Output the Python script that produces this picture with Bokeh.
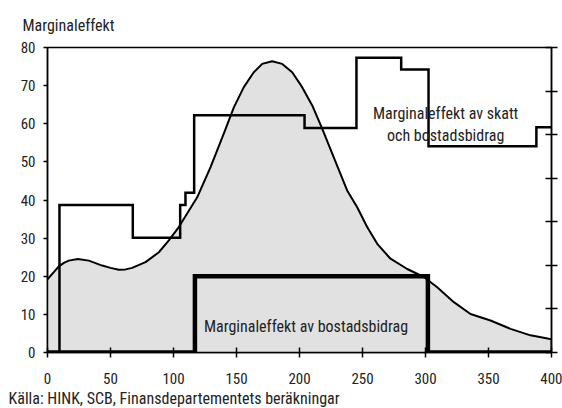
from bokeh.plotting import figure
from bokeh.models import LinearAxis, FixedTicker, Title, Range1d
from bokeh.core.properties import value
from bokeh.embed import file_html
from bokeh.resources import INLINE

FONT = "Roboto Condensed"
TXT = "#222222"

# Income distribution (grey area, smooth curve)
dist_x = [0, 5, 9, 13, 16.9, 24, 32.8, 43.4, 50, 56.6, 62, 67.2, 77.8, 88.4, 96.3, 104.2,
          112.2, 118.8, 129.4, 139.9, 147.9, 155.8, 163.7, 170.4, 178.3, 186.3, 194.2,
          202.1, 210.1, 218, 227.2, 237.8, 245.8, 253.7, 261.7, 272.2, 285.5, 298.7,
          309.3, 322.5, 335.7, 351.6, 367.5, 383.3, 397.9, 400, 400]
dist_y = [19.2, 21.1, 22.6, 23.5, 24.1, 24.5, 24.1, 22.8, 22.2, 21.7, 21.8, 22.2, 23.7, 26.3,
          29.4, 32.9, 37.2, 40.7, 48.6, 57.4, 64.3, 69.6, 73.5, 75.7, 76.4, 75.7, 73.5,
          69.6, 64.8, 58.7, 51.2, 42.5, 38.1, 32.9, 28.5, 24.6, 21.9, 19.8,
          17.1, 13.2, 10.1, 8.4, 6.2, 4.5, 3.6, 3.5, 0]

# Marginal effect of tax and housing benefit (steps)
tax_x = [0, 9.5, 67.7, 105.3, 109.5, 116.4, 204, 245.2, 280.7, 302.4, 388, 400]
tax_y = [0, 38.7, 30.1, 38.7, 41.9, 62.2, 58.9, 77.3, 74.2, 54.1, 59.1, 59.1]

# Marginal effect of housing benefit (steps)
hb_x = [0, 117, 301.9, 400]
hb_y = [0, 20, 0, 0]

x_ticks = [0, 50, 100, 150, 200, 250, 300, 350, 400]
y_ticks = [0, 10, 20, 30, 40, 50, 60, 70, 80]
right_ticks = [0, 1, 2, 3, 4, 5, 6, 7]

p = figure(width=562, height=408, output_backend="svg", toolbar_location=None,
           x_range=Range1d(0, 400), y_range=Range1d(0, 80),
           x_axis_location=None, y_axis_location=None,
           min_border_left=47, min_border_right=11, min_border_top=47, min_border_bottom=56)
p.extra_y_ranges = {"dist": Range1d(0, 7)}
p.grid.visible = False
p.outline_line_color = "black"
p.outline_line_width = 1.5
p.background_fill_color = "white"
p.border_fill_color = "white"


def style_axis(ax):
    ax.axis_line_color = "black"
    ax.axis_line_width = 1.5
    ax.major_tick_line_color = "black"
    ax.major_tick_line_width = 1.5
    ax.minor_tick_line_color = None
    ax.major_label_text_font = FONT
    ax.major_label_text_font_size = "15px"
    ax.major_label_text_color = TXT


left = LinearAxis(ticker=FixedTicker(ticks=y_ticks))
style_axis(left)
left.major_tick_in = 0
left.major_tick_out = 4
left.major_label_standoff = 8
p.add_layout(left, "left")

bottom = LinearAxis(ticker=FixedTicker(ticks=x_ticks))
style_axis(bottom)
bottom.major_tick_in = 5
bottom.major_tick_out = 5
bottom.major_label_standoff = 15
p.add_layout(bottom, "below")

right = LinearAxis(ticker=FixedTicker(ticks=right_ticks), y_range_name="dist")
style_axis(right)
right.major_tick_in = 6
right.major_tick_out = 6
right.major_label_text_color = None
right.major_label_text_font_size = "1px"
p.add_layout(right, "right")

p.varea(x=dist_x, y1=[0] * len(dist_x), y2=dist_y, fill_color="#e1e1e1")
p.line(dist_x, dist_y, line_color="black", line_width=2)

p.step(tax_x, tax_y, mode="after", line_color="black", line_width=2.5, line_join="miter")
p.step(hb_x, hb_y, mode="after", line_color="black", line_width=4.5, line_join="miter")

p.text(x=[316, 316], y=[62.6, 56.8], text=["Marginaleffekt av skatt", "och bostadsbidrag"],
       text_align="center", text_baseline="middle", text_font=value(FONT),
       text_font_size="16px", text_color=TXT)
p.text(x=[205.2], y=[6.8], text=["Marginaleffekt av bostadsbidrag"],
       text_align="center", text_baseline="middle", text_font=value(FONT),
       text_font_size="16px", text_color=TXT)

t = Title(text="Marginaleffekt", align="left", offset=-25, standoff=25, text_font=FONT,
          text_font_size="16px", text_font_style="normal", text_color=TXT)
p.add_layout(t, "above")

s = Title(text="Källa: HINK, SCB, Finansdepartementets beräkningar", align="left", offset=-39,
          standoff=0, text_font=FONT, text_font_size="16px", text_font_style="normal",
          text_color=TXT)
p.add_layout(s, "below")

open("out.html", "w").write(file_html(p, INLINE))
